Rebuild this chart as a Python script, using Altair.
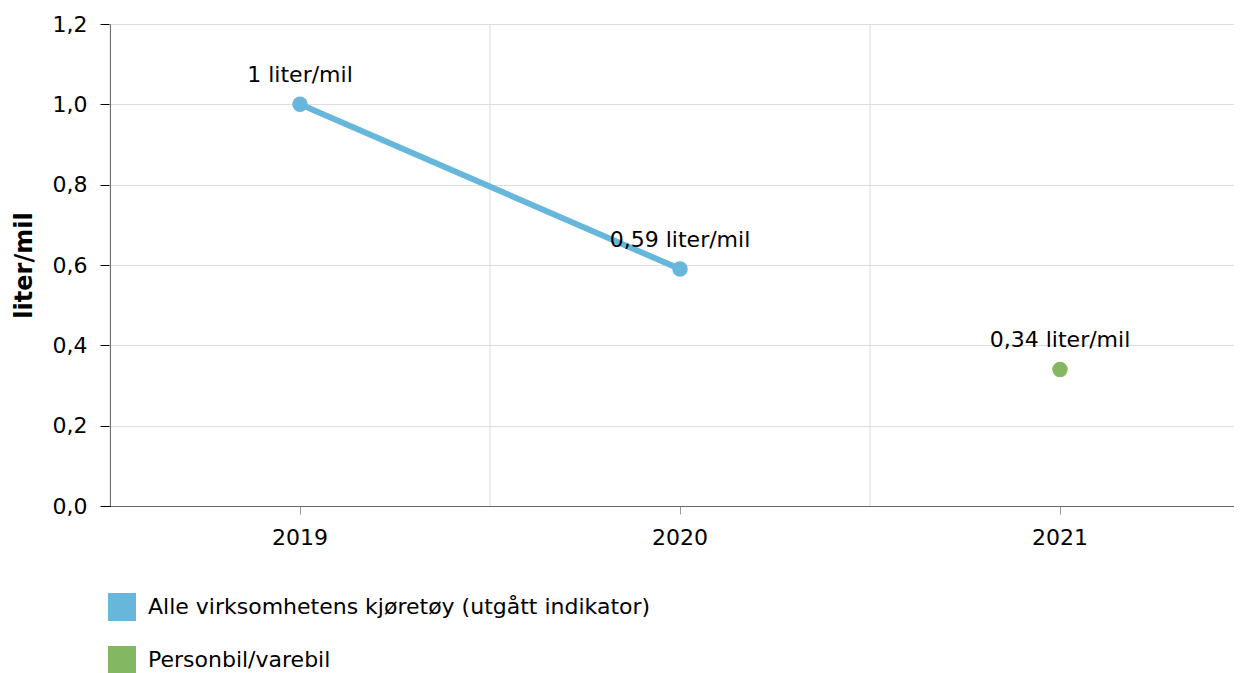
import altair as alt
import pandas as pd

# ---- data ----
years = ["2019", "2020", "2021"]
series_names = ["Alle virksomhetens kjøretøy (utgått indikator)", "Personbil/varebil"]
series_colors = ["#67b7dc", "#84b761"]

s1_years = ["2019", "2020"]
s1_values = [1.0, 0.59]
s1_labels = ["1 liter/mil", "0,59 liter/mil"]

s2_years = ["2021"]
s2_values = [0.34]
s2_labels = ["0,34 liter/mil"]

y_ticks = [0.0, 0.2, 0.4, 0.6, 0.8, 1.0, 1.2]

rows = []
for y, v, l in zip(s1_years, s1_values, s1_labels):
    rows.append({"year": y, "value": v, "label": l, "series": series_names[0]})
for y, v, l in zip(s2_years, s2_values, s2_labels):
    rows.append({"year": y, "value": v, "label": l, "series": series_names[1]})
df = pd.DataFrame(rows)
grid_df = pd.DataFrame({"year": years})

FONT = "DejaVu Sans"

xscale = alt.Scale(type="band", domain=years, paddingInner=0, paddingOuter=0)
yscale = alt.Scale(domain=[0, 1.2], nice=False, zero=True)
cscale = alt.Scale(domain=series_names, range=series_colors)

x_axis = alt.Axis(title=None, labelAngle=0, grid=False, domainColor="#666666",
                  tickColor="#999999", tickSize=8, labelPadding=13,
                  labelFontSize=22, labelFont=FONT, labelColor="#000000")
y_axis = alt.Axis(title="liter/mil", values=y_ticks,
                  labelExpr="replace(format(datum.value, '.1f'), '.', ',')",
                  domainColor="#000000", tickColor="#000000", tickSize=10,
                  labelPadding=13, labelFontSize=22, labelFont=FONT, labelColor="#000000",
                  titleFontSize=24, titleFont=FONT, titleFontWeight="bold",
                  titleColor="#000000", titlePadding=16, gridColor="#dddddd")

grid = alt.Chart(grid_df).mark_rule(color="#dddddd", strokeWidth=1).encode(
    x=alt.X("year:N", scale=xscale, axis=x_axis, bandPosition=0)
)

base = alt.Chart(df)

line = base.transform_filter(alt.datum.series == series_names[0]).mark_line(
    strokeWidth=6, color=series_colors[0]).encode(
    x=alt.X("year:N", scale=xscale, axis=x_axis),
    y=alt.Y("value:Q", scale=yscale, axis=y_axis),
    detail="series:N",
)

points = base.mark_circle(size=240, opacity=1).encode(
    x=alt.X("year:N", scale=xscale, axis=x_axis),
    y=alt.Y("value:Q", scale=yscale, axis=y_axis),
    color=alt.Color("series:N", scale=cscale,
                    legend=alt.Legend(title=None, orient="none", legendX=-2, legendY=569,
                                      direction="vertical", symbolType="square",
                                      symbolSize=784, symbolStrokeWidth=0, symbolOpacity=1,
                                      labelFontSize=22, labelFont=FONT, labelColor="#000000",
                                      rowPadding=25, labelOffset=12, labelLimit=800)),
)

labels = base.mark_text(dy=-29, baseline="middle", align="center", fontSize=22,
                        font=FONT, color="#000000").encode(
    x=alt.X("year:N", scale=xscale, axis=x_axis),
    y=alt.Y("value:Q", scale=yscale, axis=y_axis),
    text="label:N",
)

chart = alt.layer(grid, line, points, labels).properties(
    width=1140, height=482,
    autosize=alt.AutoSizeParams(type="none"),
    padding={"left": 102, "top": 16, "right": -16, "bottom": 170},
).configure_view(stroke=None).configure(background="#ffffff")

chart.save("out.html", embed_options={"renderer": "svg", "actions": False})
